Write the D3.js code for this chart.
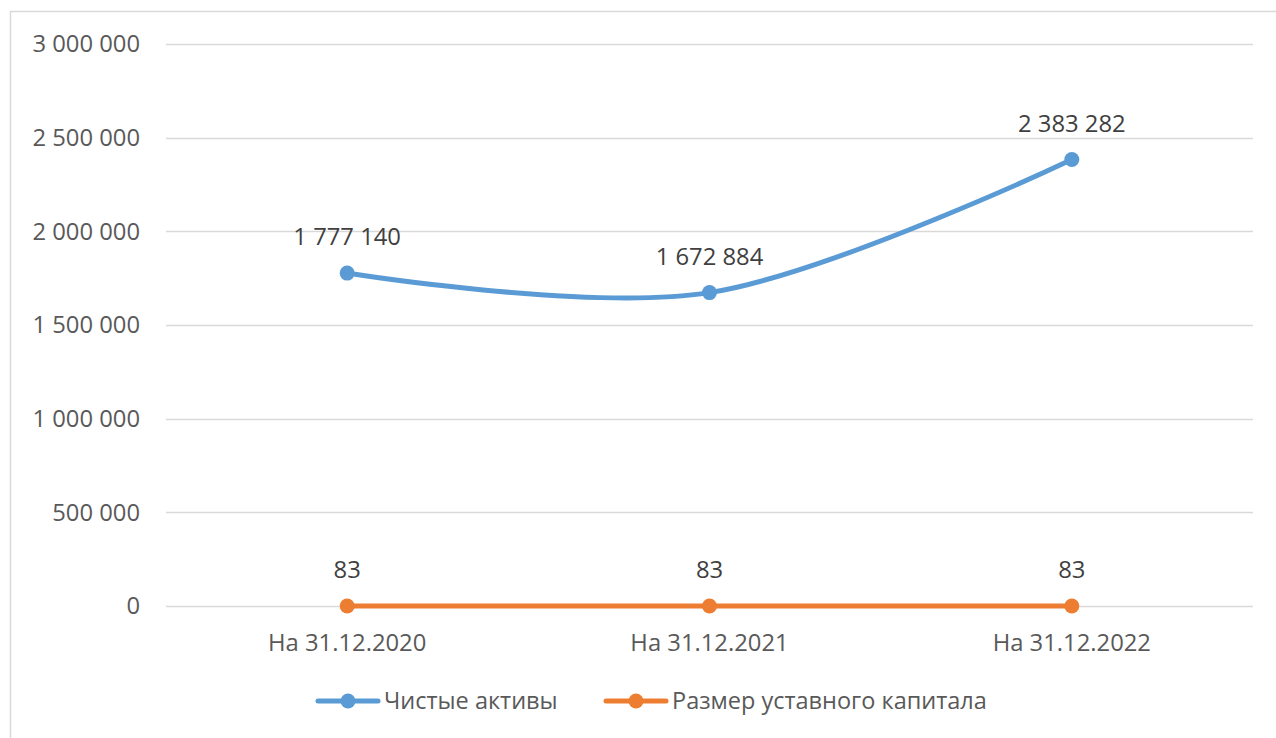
<!DOCTYPE html>
<html>
<head>
<meta charset="utf-8">
<script src="https://cdn.jsdelivr.net/npm/d3@7"></script>
<style>
  body { margin: 0; background: #fff; }
  text { font-family: "Open Sans", "Liberation Sans", sans-serif; fill: #595959; }
</style>
</head>
<body>
<script>
const categories = ["На 31.12.2020", "На 31.12.2021", "На 31.12.2022"];
const netAssets = [1777140, 1672884, 2383282];
const charterCapital = [83, 83, 83];
const yTicks = [0, 500000, 1000000, 1500000, 2000000, 2500000, 3000000];
const seriesNames = ["Чистые активы", "Размер уставного капитала"];
const seriesColors = ["#5B9BD5", "#ED7D31"];

let width = 1276, height = 738;
let marginLeft = 166, marginRight = 23, marginTop = 44, marginBottom = 132;
let fontSize = "23.8px";

const ru = d3.formatLocale({ decimal: ",", thousands: "\u00a0", grouping: [3], currency: ["", ""] });
const fmt = ru.format(",d");

let svg = d3.select("body").append("svg")
  .attr("width", width)
  .attr("height", height);

// chart frame
svg.append("rect")
  .attr("x", 10.5).attr("y", 11.5)
  .attr("width", 1300).attr("height", 800)
  .attr("fill", "none")
  .attr("stroke", "#D9D9D9")
  .attr("stroke-width", 1.5);

let x = d3.scaleBand()
  .domain(categories)
  .range([marginLeft, width - marginRight]);

let y = d3.scaleLinear()
  .domain([0, 3000000])
  .range([height - marginBottom, marginTop]);

// gridlines
svg.append("g")
  .selectAll("line")
  .data(yTicks)
  .enter().append("line")
  .attr("x1", marginLeft)
  .attr("x2", width - marginRight)
  .attr("y1", d => Math.round(y(d)) + 0.5)
  .attr("y2", d => Math.round(y(d)) + 0.5)
  .attr("stroke", "#D9D9D9")
  .attr("stroke-width", 1.5);

// y labels
svg.append("g")
  .selectAll("text")
  .data(yTicks)
  .enter().append("text")
  .attr("x", 140)
  .attr("y", d => y(d))
  .attr("dy", "0.35em")
  .attr("text-anchor", "end")
  .style("font-size", fontSize)
  .text(d => fmt(d));

// x labels
svg.append("g")
  .selectAll("text")
  .data(categories)
  .enter().append("text")
  .attr("x", d => x(d) + x.bandwidth() / 2)
  .attr("y", height - marginBottom + 37)
  .attr("dy", "0.35em")
  .attr("text-anchor", "middle")
  .style("font-size", fontSize)
  .text(d => d);

const series = [netAssets, charterCapital];

const line = d3.line()
  .x((d, i) => x(categories[i]) + x.bandwidth() / 2)
  .y(d => y(d))
  .curve(d3.curveCardinal.tension(0));

series.forEach((vals, s) => {
  let g = svg.append("g");
  g.append("path")
    .datum(vals)
    .attr("d", line)
    .attr("fill", "none")
    .attr("stroke", seriesColors[s])
    .attr("stroke-width", 5)
    .attr("stroke-linecap", "round");

  g.selectAll("circle")
    .data(vals)
    .enter().append("circle")
    .attr("cx", (d, i) => x(categories[i]) + x.bandwidth() / 2)
    .attr("cy", d => y(d))
    .attr("r", 7.5)
    .attr("fill", seriesColors[s]);

  g.selectAll("text")
    .data(vals)
    .enter().append("text")
    .attr("x", (d, i) => x(categories[i]) + x.bandwidth() / 2)
    .attr("y", d => y(d) - 36)
    .attr("dy", "0.35em")
    .attr("text-anchor", "middle")
    .style("font-size", fontSize)
    .style("fill", "#404040")
    .text(d => fmt(d));
});

// legend
let legendX = [316, 604];
let legend = svg.append("g");
seriesNames.forEach((name, s) => {
  let lg = legend.append("g")
    .attr("transform", "translate(" + legendX[s] + "," + 701 + ")");
  lg.append("line")
    .attr("x1", 2).attr("x2", 62)
    .attr("y1", 0).attr("y2", 0)
    .attr("stroke", seriesColors[s])
    .attr("stroke-width", 5)
    .attr("stroke-linecap", "round");
  lg.append("circle")
    .attr("cx", 32).attr("cy", 0)
    .attr("r", 7.5)
    .attr("fill", seriesColors[s]);
  lg.append("text")
    .attr("x", 68)
    .attr("y", 0)
    .attr("dy", "0.35em")
    .style("font-size", "23.5px")
    .text(name);
});
</script>
</body>
</html>
